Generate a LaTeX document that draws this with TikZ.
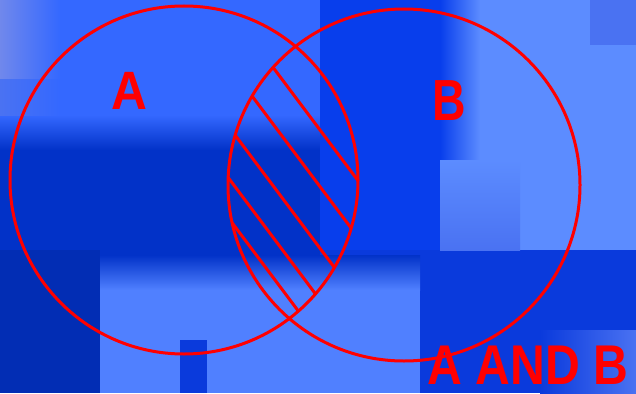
\documentclass[tikz,border=0pt]{standalone}
\usepackage{fontspec}
\setmainfont{Liberation Sans}
\usetikzlibrary{calc}
\definecolor{bgNavy}{HTML}{0A3ADC}
\definecolor{bgTop}{HTML}{3468FF}
\definecolor{bgPale}{HTML}{7088EC}
\definecolor{bgMid}{HTML}{4A72F2}
\definecolor{bgColumn}{HTML}{083EEC}
\definecolor{bgLight}{HTML}{5C8CFF}
\definecolor{bgDeep}{HTML}{0232C8}
\definecolor{bgSoft}{HTML}{5080FF}

\begin{document}
\begin{tikzpicture}[x=1pt, y=-1pt,
    ring/.style={draw=red, line width=3pt},
    hatchline/.style={draw=red, line width=3pt},
    setlabel/.style={text=red, inner sep=0pt,
                     font=\bfseries\fontsize{54}{60}\selectfont},
]
\useasboundingbox (0,0) rectangle (636,393);

% background
\fill[bgNavy]   (0,0) rectangle (636,393);
\fill[bgTop]    (0,0) rectangle (320,115);
\shade[top color=bgTop, bottom color=bgDeep] (0,115) rectangle (320,150);
\shade[left color=bgPale, right color=bgTop] (0,0) rectangle (60,80);
\shade[left color=bgMid, right color=bgTop]  (0,80) rectangle (60,115);
\fill[bgColumn] (320,0) rectangle (460,250);
\shade[left color=bgColumn, right color=bgLight] (440,0) rectangle (480,160);
\fill[bgLight]  (480,0) rectangle (636,250);
\fill[bgMid]    (590,0) rectangle (636,45);
\shade[top color=bgLight, bottom color=bgMid] (440,160) rectangle (520,250);
\fill[bgDeep]   (0,150) rectangle (320,270);
\fill[bgDeep!90!black] (0,250) rectangle (100,393);
\shade[top color=bgDeep, bottom color=bgSoft] (100,255) rectangle (420,290);
\fill[bgSoft]   (100,290) rectangle (420,393);
\fill[bgNavy]   (180,340) rectangle (207,393);
\shade[left color=bgNavy, right color=bgMid] (540,330) rectangle (636,393);

% circles
\coordinate (ca) at (184,180);
\coordinate (cb) at (404,185);
\draw[ring] (ca) circle[radius=174pt];
\draw[ring] (cb) circle[radius=176pt];

% hatching of the overlap
\begin{scope}
  \clip (ca) circle[radius=174pt];
  \clip (cb) circle[radius=176pt];
  \foreach \c in {178,144,107,76,52}
    \draw[hatchline] ({0.8*\c+0.6*150},{-0.6*\c+0.8*150})
                  -- ({0.8*\c+0.6*500},{-0.6*\c+0.8*500});
\end{scope}

% labels
\node[setlabel, xscale=0.92] (labA) at (129,91) {A};
\node[setlabel, xscale=0.8, font=\bfseries\fontsize{58}{64}\selectfont]
     (labB) at (449,101) {B};
\node[setlabel, xscale=0.86, font=\bfseries\fontsize{56}{62}\selectfont]
     (labAB) at (528,365) {A AND B};
\end{tikzpicture}
\end{document}
